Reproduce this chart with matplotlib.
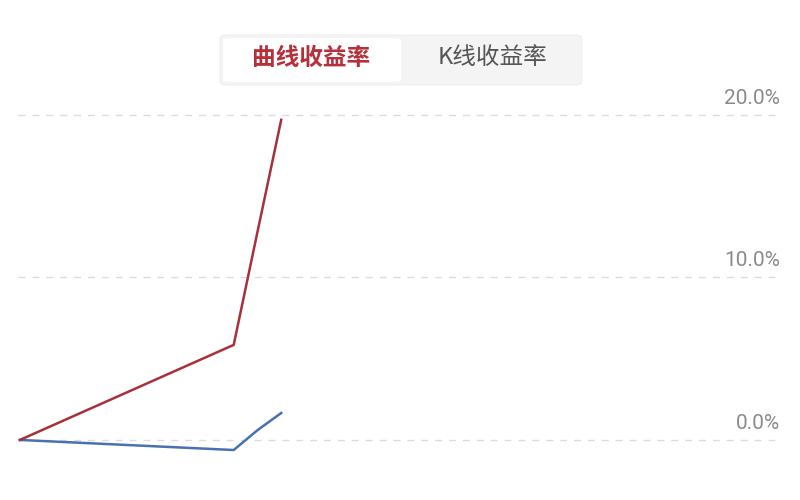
import matplotlib.pyplot as plt
from matplotlib.patches import FancyBboxPatch
import matplotlib.transforms as mtransforms

plt.rcParams['font.family'] = ['Noto Sans CJK SC', 'DejaVu Sans']

# day offsets from start and returns in percent
days = [0, 9, 10, 11]
curve_ret = [0.0, 5.85, 12.8, 19.7]
kline_ret = [0.0, -0.62, 0.6, 1.66]
ticks = [0, 10, 20]
tick_labels = ["0.0%", "10.0%", "20.0%"]
tabs = ["曲线收益率", "K线收益率"]

fig = plt.figure(figsize=(8, 5), dpi=100)
ax = fig.add_axes([0.0225, 0.06, 0.955, 0.74])
ax.set_xlim(-0.08, 32.08)
ax.set_ylim(-1.85, 20.92)

for t in ticks:
    ax.axhline(t, color="#dcdcdc", lw=1, ls=(0, (5, 5)), zorder=0)
trans = mtransforms.blended_transform_factory(ax.transAxes, ax.transData)
for t, lab in zip(ticks, tick_labels):
    ax.text(0.997, t + 0.45, lab, transform=trans, ha="right", va="bottom",
            fontsize=15, color="#8a8a8a", family=["Roboto", "DejaVu Sans"])

ax.plot(days, curve_ret, color="#a8303a", lw=1.8, zorder=3)
ax.plot(days, kline_ret, color="#4a70b0", lw=1.8, zorder=2)

for s in ax.spines.values():
    s.set_visible(False)
ax.set_xticks([])
ax.set_yticks([])

# tab switcher on top
bg = FancyBboxPatch((220 / 800, 1 - 85 / 500), 362 / 800, 50 / 500,
                    boxstyle="round,pad=0,rounding_size=0.008",
                    transform=fig.transFigure, facecolor="#f4f4f4",
                    edgecolor="#efefef", lw=0.8)
fig.patches.append(bg)
sel = FancyBboxPatch((223 / 800, 1 - 82 / 500), 178 / 800, 44 / 500,
                     boxstyle="round,pad=0,rounding_size=0.006",
                     transform=fig.transFigure, facecolor="white",
                     edgecolor="none")
fig.patches.append(sel)
fig.text(311 / 800, 1 - 58 / 500, tabs[0], ha="center", va="center",
         fontsize=17, color="#b5303a", fontweight="bold")
fig.text(492 / 800, 1 - 58 / 500, tabs[1], ha="center", va="center",
         fontsize=17, color="#555555")

fig.savefig("out.png", dpi=100)
